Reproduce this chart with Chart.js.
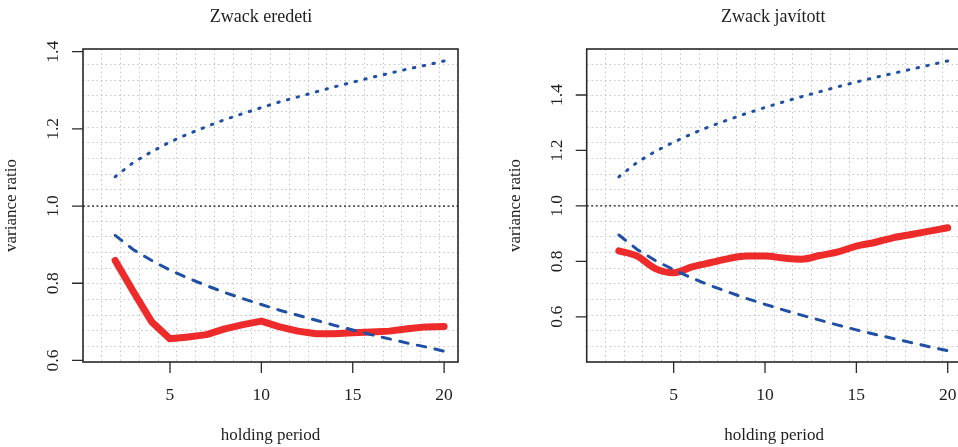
<!DOCTYPE html>
<html lang="hu">
<head>
<meta charset="UTF-8">
<title>Variance ratio – Zwack</title>
<script src="https://cdn.jsdelivr.net/npm/chart.js"></script>
<style>
  html, body { margin: 0; padding: 0; background: #fff; }
  #wrap { position: relative; width: 958px; height: 447px; overflow: hidden; }
  .panel { position: absolute; top: 0; }
</style>
</head>
<body>
<div id="wrap">
  <canvas id="eredeti" class="panel" width="479" height="447" style="left:0"></canvas>
  <canvas id="javitott" class="panel" width="504" height="447" style="left:479px"></canvas>
</div>

<script>
// holding periods (q) and axis ticks
const holdingPeriods = [2, 3, 4, 5, 6, 7, 8, 9, 10, 11, 12, 13, 14, 15, 16, 17, 18, 19, 20];
const xTicks = [5, 10, 15, 20];
const yTicks = [0.6, 0.8, 1.0, 1.2, 1.4];

// Zwack, original series
const eredetiVR    = [0.859, 0.778, 0.700, 0.656, 0.661, 0.667, 0.682, 0.693, 0.702, 0.687,
                      0.676, 0.669, 0.669, 0.672, 0.674, 0.676, 0.682, 0.687, 0.688];
const eredetiUpper = [1.076, 1.113, 1.141, 1.166, 1.187, 1.206, 1.224, 1.240, 1.255, 1.270,
                      1.283, 1.296, 1.309, 1.321, 1.333, 1.344, 1.355, 1.365, 1.376];
const eredetiLower = [0.924, 0.887, 0.859, 0.834, 0.813, 0.794, 0.776, 0.760, 0.745, 0.730,
                      0.717, 0.704, 0.691, 0.679, 0.667, 0.656, 0.645, 0.635, 0.624];

// Zwack, corrected series
const javitottVR    = [0.838, 0.819, 0.774, 0.759, 0.780, 0.795, 0.810, 0.819, 0.819, 0.812,
                       0.808, 0.821, 0.834, 0.855, 0.868, 0.885, 0.897, 0.909, 0.921];
const javitottUpper = [1.105, 1.157, 1.197, 1.230, 1.260, 1.287, 1.311, 1.334, 1.355, 1.375,
                       1.394, 1.412, 1.430, 1.447, 1.463, 1.478, 1.493, 1.508, 1.523];
const javitottLower = [0.895, 0.843, 0.803, 0.770, 0.740, 0.713, 0.689, 0.666, 0.645, 0.625,
                       0.606, 0.588, 0.570, 0.553, 0.537, 0.522, 0.507, 0.492, 0.478];

const SERIF = '"Liberation Serif", "DejaVu Serif", serif';
const INK = '#1e1e1e';
const BLUE = '#1f50a6';
const RED = '#ee2b2b';

function pts(values) {
  return holdingPeriods.map((q, i) => ({ x: q, y: values[i] }));
}

// R-style frame: box, ticks, labels, titles, h = 1 reference line
const rFrame = {
  id: 'rFrame',
  beforeDatasetsDraw(chart) {
    const { ctx, chartArea: a, scales: { y } } = chart;
    const py = y.getPixelForValue(1);
    ctx.save();
    ctx.strokeStyle = INK;
    ctx.lineWidth = 1.2;
    ctx.setLineDash([2, 2.5]);
    ctx.beginPath();
    ctx.moveTo(a.left, py);
    ctx.lineTo(a.right, py);
    ctx.stroke();
    ctx.restore();
  },
  afterDraw(chart, args, opts) {
    const { ctx, chartArea: a, scales: { x, y } } = chart;
    ctx.save();
    ctx.setLineDash([]);
    ctx.strokeStyle = '#2a2a2a';
    ctx.lineWidth = 1.6;
    ctx.strokeRect(a.left, a.top, a.right - a.left, a.bottom - a.top);

    ctx.lineWidth = 1.3;
    ctx.beginPath();
    xTicks.forEach(v => {
      const px = x.getPixelForValue(v);
      ctx.moveTo(px, a.bottom);
      ctx.lineTo(px, a.bottom + 11);
    });
    yTicks.forEach(v => {
      const py = y.getPixelForValue(v);
      ctx.moveTo(a.left, py);
      ctx.lineTo(a.left - 11, py);
    });
    ctx.stroke();

    ctx.fillStyle = INK;
    ctx.font = '17.5px ' + SERIF;
    ctx.textAlign = 'center';
    ctx.textBaseline = 'alphabetic';
    xTicks.forEach(v => ctx.fillText(String(v), x.getPixelForValue(v), a.bottom + 38));

    ctx.textBaseline = 'middle';
    yTicks.forEach(v => {
      ctx.save();
      ctx.translate(a.left - 29.5, y.getPixelForValue(v));
      ctx.rotate(-Math.PI / 2);
      ctx.fillText(v.toFixed(1), 0, 0);
      ctx.restore();
    });

    ctx.font = '17px ' + SERIF;
    ctx.save();
    ctx.translate(a.left - 71, (a.top + a.bottom) / 2);
    ctx.rotate(-Math.PI / 2);
    ctx.fillText('variance ratio', 0, 0);
    ctx.restore();
    ctx.textBaseline = 'alphabetic';
    ctx.fillText('holding period', (a.left + a.right) / 2, a.bottom + 78);

    ctx.font = '18px ' + SERIF;
    ctx.fillText(opts.title, (a.left + a.right) / 2 + opts.shift, 22);
    ctx.restore();
  }
};

function gridAxis(position) {
  return {
    type: 'linear',
    position: position,
    min: 0,
    max: 20,
    afterBuildTicks: s => { s.ticks = Array.from({ length: 21 }, (_, i) => ({ value: i })); },
    ticks: { display: false, autoSkip: false },
    grid: { color: '#c6c6c6', lineWidth: 1, drawTicks: false },
    border: { display: false, dash: [1.5, 3] }
  };
}

function makePanel(id, title, shift, vr, upper, lower, yMin, yMax, pad, smooth) {
  new Chart(document.getElementById(id), {
    type: 'line',
    data: {
      datasets: [
        { data: pts(vr), borderColor: RED, borderWidth: 7, pointRadius: 0,
          borderCapStyle: 'round', borderJoinStyle: 'round',
          cubicInterpolationMode: smooth ? 'monotone' : 'default', tension: 0, order: 3 },
        { data: pts(upper), borderColor: BLUE, borderWidth: 3, pointRadius: 0,
          borderCapStyle: 'round', borderDash: [1.5, 8.5], order: 1 },
        { data: pts(lower), borderColor: BLUE, borderWidth: 3, pointRadius: 0,
          borderCapStyle: 'round', borderDash: [8.5, 9.5], order: 2 }
      ]
    },
    options: {
      responsive: false,
      animation: false,
      events: [],
      layout: { padding: pad },
      scales: {
        x: { type: 'linear', display: false, min: 0.24, max: 20.76 },
        y: { type: 'linear', display: false, min: yMin, max: yMax },
        gx: gridAxis('bottom'),
        gy: gridAxis('left')
      },
      plugins: {
        legend: { display: false },
        tooltip: { enabled: false },
        rFrame: { title: title, shift: shift }
      }
    },
    plugins: [rFrame]
  });
}

makePanel('eredeti', 'Zwack eredeti', -9.5, eredetiVR, eredetiUpper, eredetiLower,
  0.596, 1.407, { left: 83, top: 49, right: 21, bottom: 85 }, false);
makePanel('javitott', 'Zwack javított', -1, javitottVR, javitottUpper, javitottLower,
  0.437, 1.566, { left: 107.7, top: 49, right: 21.4, bottom: 85 }, true);
</script>
</body>
</html>
